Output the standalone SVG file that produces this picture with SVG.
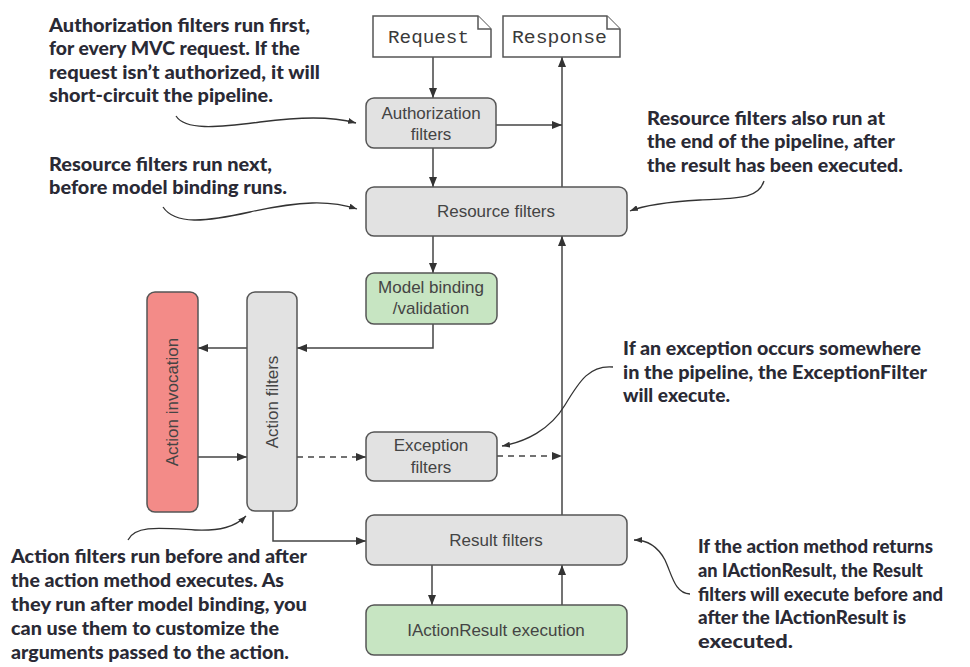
<svg xmlns="http://www.w3.org/2000/svg" width="970" height="667" viewBox="0 0 970 667">
<defs>
<style>
.box{stroke:#555;stroke-width:1.5;}
.gray{fill:#e2e2e2;}
.green{fill:#c7e5c2;}
.red{fill:#f38b88;}
.doc{fill:#fff;stroke:#555;stroke-width:1.5;}
.nt{font-family:"Liberation Sans",Arial,sans-serif;font-size:17px;fill:#444;text-anchor:middle;}
.mono{font-family:"Liberation Mono","Courier New",monospace;font-size:19px;fill:#3a3a3a;}
.ann{font-family:Lato,"Liberation Sans",sans-serif;font-weight:900;font-size:19px;fill:#2a2a35;}
.ln{fill:none;stroke:#444;stroke-width:1.5;}
.dash{stroke-dasharray:6 5;}
.cv{fill:none;stroke:#333;stroke-width:1.3;}
</style>
<marker id="arr" viewBox="0 0 10 8" markerWidth="10" markerHeight="8" refX="10" refY="4" orient="auto" markerUnits="userSpaceOnUse">
<path d="M0,0 L10,4 L0,8 z" fill="#333"/>
</marker>
<marker id="arrs" viewBox="0 0 8 6" markerWidth="8" markerHeight="6" refX="8" refY="3" orient="auto" markerUnits="userSpaceOnUse">
<path d="M0,0 L8,3 L0,6 z" fill="#333"/>
</marker>
</defs>
<rect width="970" height="667" fill="#fff"/>

<g id="connectors">
<path class="ln" d="M433,57 V98" marker-end="url(#arr)"/>
<path class="ln" d="M496,125 H562" marker-end="url(#arr)"/>
<path class="ln" d="M562,187 V57" marker-end="url(#arr)"/>
<path class="ln" d="M433,148 V187" marker-end="url(#arr)"/>
<path class="ln" d="M433,236 V273" marker-end="url(#arr)"/>
<path class="ln" d="M433,324 V348 H297" marker-end="url(#arr)"/>
<path class="ln" d="M247,348 H198" marker-end="url(#arr)"/>
<path class="ln" d="M198,457 H247" marker-end="url(#arr)"/>
<path class="ln dash" d="M297,457 H366" marker-end="url(#arr)"/>
<path class="ln dash" d="M497,456 H562" marker-end="url(#arr)"/>
<path class="ln" d="M562,515 V236" marker-end="url(#arr)"/>
<path class="ln" d="M273,511 V541 H366" marker-end="url(#arr)"/>
<path class="ln" d="M432,565 V605" marker-end="url(#arr)"/>
<path class="ln" d="M562,605 V565" marker-end="url(#arr)"/>
</g>

<g id="request">
<path class="doc" d="M373,16 H478 L491,29 V57 H373 Z"/>
<path class="doc" d="M478,16 V29 H491" fill="none"/>
<text class="mono" x="388" y="43" textLength="81" lengthAdjust="spacingAndGlyphs">Request</text>
</g>
<g id="response">
<path class="doc" d="M503,16 H607 L620,29 V57 H503 Z"/>
<path class="doc" d="M607,16 V29 H620" fill="none"/>
<text class="mono" x="512" y="43" textLength="95" lengthAdjust="spacingAndGlyphs">Response</text>
</g>

<g id="authorization">
<rect class="box gray" x="366" y="98" width="130" height="50" rx="8"/>
<text class="nt" x="431" y="119">Authorization</text>
<text class="nt" x="431" y="140">filters</text>
</g>
<g id="resource">
<rect class="box gray" x="366" y="187" width="261" height="49" rx="8"/>
<text class="nt" x="496" y="217">Resource filters</text>
</g>
<g id="modelbinding">
<rect class="box green" x="366" y="273" width="131" height="51" rx="8"/>
<text class="nt" x="431" y="293">Model binding</text>
<text class="nt" x="431" y="314">/validation</text>
</g>
<g id="actioninvocation">
<rect class="box red" x="147" y="292" width="51" height="220" rx="8"/>
<text class="nt" transform="translate(178,402) rotate(-90)">Action invocation</text>
</g>
<g id="actionfilters">
<rect class="box gray" x="247" y="292" width="50" height="219" rx="8"/>
<text class="nt" transform="translate(278,402) rotate(-90)">Action filters</text>
</g>
<g id="exception">
<rect class="box gray" x="366" y="432" width="131" height="49" rx="8"/>
<text class="nt" x="431" y="451">Exception</text>
<text class="nt" x="431" y="473">filters</text>
</g>
<g id="result">
<rect class="box gray" x="366" y="515" width="261" height="50" rx="8"/>
<text class="nt" x="496" y="546">Result filters</text>
</g>
<g id="iactionresult">
<rect class="box green" x="366" y="605" width="261" height="50" rx="8"/>
<text class="nt" x="496" y="636">IActionResult execution</text>
</g>

<g id="annotations">
<path class="cv" d="M176,116 C185,130 215,128 260,122 C300,117 330,116 356,123" marker-end="url(#arrs)"/>
<path class="cv" d="M163,207 C175,225 205,222 250,212 C300,201 330,200 357,209" marker-end="url(#arrs)"/>
<path class="cv" d="M764,181 C758,200 735,198 700,200 C665,202 645,205 630,211" marker-end="url(#arrs)"/>
<path class="cv" d="M613,367 C590,365 580,380 565,405 C550,430 525,442 502,446" marker-end="url(#arrs)"/>
<path class="cv" d="M128,540 C135,525 160,528 195,530 C220,531 235,527 246,516" marker-end="url(#arrs)"/>
<path class="cv" d="M690,594 C675,594 672,575 665,560 C657,545 645,540 634,540" marker-end="url(#arrs)"/>

<text class="ann" x="49" y="32" textLength="261" lengthAdjust="spacingAndGlyphs">Authorization filters run first,</text>
<text class="ann" x="49" y="55" textLength="251" lengthAdjust="spacingAndGlyphs">for every MVC request. If the</text>
<text class="ann" x="49" y="79" textLength="271" lengthAdjust="spacingAndGlyphs">request isn’t authorized, it will</text>
<text class="ann" x="49" y="102" textLength="224" lengthAdjust="spacingAndGlyphs">short-circuit the pipeline.</text>

<text class="ann" x="49" y="171" textLength="223" lengthAdjust="spacingAndGlyphs">Resource filters run next,</text>
<text class="ann" x="49" y="194" textLength="238" lengthAdjust="spacingAndGlyphs">before model binding runs.</text>

<text class="ann" x="647" y="125" textLength="238" lengthAdjust="spacingAndGlyphs">Resource filters also run at</text>
<text class="ann" x="647" y="148" textLength="248" lengthAdjust="spacingAndGlyphs">the end of the pipeline, after</text>
<text class="ann" x="647" y="172" textLength="256" lengthAdjust="spacingAndGlyphs">the result has been executed.</text>

<text class="ann" x="623" y="355" textLength="298" lengthAdjust="spacingAndGlyphs">If an exception occurs somewhere</text>
<text class="ann" x="623" y="379" textLength="304" lengthAdjust="spacingAndGlyphs">in the pipeline, the ExceptionFilter</text>
<text class="ann" x="623" y="402" textLength="107" lengthAdjust="spacingAndGlyphs">will execute.</text>

<text class="ann" x="11" y="563" textLength="296" lengthAdjust="spacingAndGlyphs">Action filters run before and after</text>
<text class="ann" x="11" y="587" textLength="273" lengthAdjust="spacingAndGlyphs">the action method executes. As</text>
<text class="ann" x="11" y="611" textLength="296" lengthAdjust="spacingAndGlyphs">they run after model binding, you</text>
<text class="ann" x="11" y="635" textLength="268" lengthAdjust="spacingAndGlyphs">can use them to customize the</text>
<text class="ann" x="11" y="659" textLength="278" lengthAdjust="spacingAndGlyphs">arguments passed to the action.</text>

<text class="ann" x="698" y="553" textLength="235" lengthAdjust="spacingAndGlyphs">If the action method returns</text>
<text class="ann" x="698" y="577" textLength="225" lengthAdjust="spacingAndGlyphs">an IActionResult, the Result</text>
<text class="ann" x="698" y="601" textLength="245" lengthAdjust="spacingAndGlyphs">filters will execute before and</text>
<text class="ann" x="698" y="624" textLength="208" lengthAdjust="spacingAndGlyphs">after the IActionResult is</text>
<text class="ann" x="698" y="648" textLength="95" lengthAdjust="spacingAndGlyphs">executed.</text>
</g>
</svg>
